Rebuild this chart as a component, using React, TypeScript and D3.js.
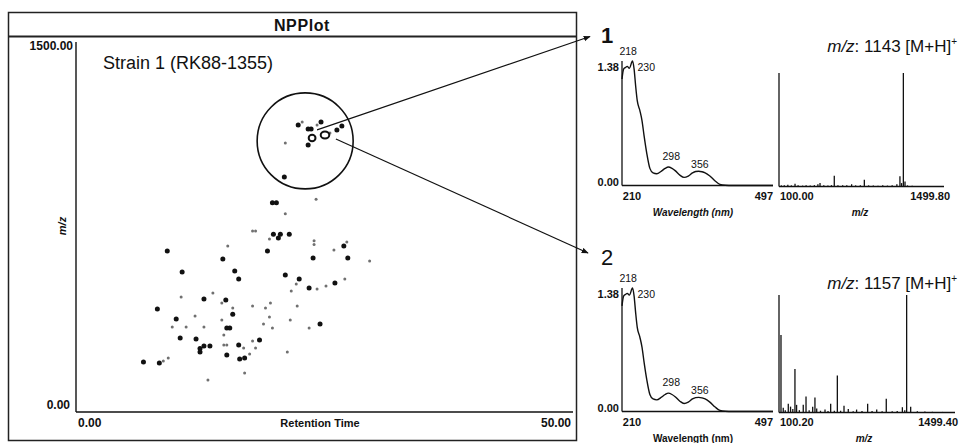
import React from "react";
import * as d3 from "d3";

// ---------- scatter (NPPlot) data ----------
const bigRt = [19.8, 20.2, 19.9, 20.6, 20.4, 21.5, 27.0, 9.2, 19.3, 23.9, 27.4, 14.8, 10.7, 16.0, 16.4, 21.1, 22.5, 23.5, 26.1, 12.9, 15.1, 8.2, 15.8, 10.1, 15.2, 15.5, 24.6, 10.5, 12.1, 18.5, 12.9, 13.5, 12.5, 12.5, 16.4, 15.2, 16.5, 17.0, 6.8, 8.4, 22.4, 23.4, 23.7, 24.7, 26.3, 26.8, 23.4, 21.0];
const bigMz = [855, 855, 727, 727, 711, 727, 678, 658, 658, 629, 629, 625, 572, 576, 544, 560, 544, 507, 527, 462, 458, 421, 400, 380, 343, 343, 360, 302, 298, 294, 270, 270, 260, 245, 274, 233, 217, 221, 204, 200, 1173, 1157, 1157, 1185, 1153, 1169, 1091, 960];
const smallRt = [24.2, 21.1, 17.8, 18.1, 19.5, 24.0, 24.0, 27.3, 15.3, 26.0, 29.6, 22.2, 21.7, 24.3, 25.2, 27.1, 10.6, 13.8, 14.7, 15.8, 17.8, 19.1, 19.6, 22.3, 12.0, 19.5, 14.7, 21.6, 9.7, 11.1, 12.9, 18.9, 19.8, 23.5, 14.9, 17.8, 14.9, 15.2, 16.9, 18.1, 17.5, 21.3, 8.8, 9.3, 17.0, 13.3, 22.8, 24.3, 25.6, 21.1];
const smallMz = [870, 810, 740, 740, 707, 700, 685, 695, 678, 662, 617, 523, 495, 503, 515, 544, 470, 486, 445, 425, 433, 425, 445, 433, 392, 388, 376, 376, 347, 347, 347, 360, 343, 343, 315, 290, 274, 274, 262, 262, 237, 245, 208, 221, 159, 131, 1185, 1173, 1140, 1099];
const ringRt = [23.8, 25.1];
const ringMz = [1120, 1132];

// ---------- UV spectra ----------
const uvWl = [210, 213, 217, 220, 224, 230, 233, 236, 239, 244, 248, 252, 257, 263, 269, 276, 285, 292, 298, 305, 311, 320, 328, 336, 344, 350, 356, 362, 368, 377, 387, 396, 406, 420, 497];
const uvAbs = [1.18, 1.29, 1.31, 1.32, 1.30, 1.38, 1.29, 1.10, 0.94, 0.83, 0.72, 0.55, 0.36, 0.19, 0.14, 0.13, 0.16, 0.19, 0.205, 0.19, 0.165, 0.115, 0.09, 0.105, 0.14, 0.155, 0.158, 0.152, 0.14, 0.105, 0.05, 0.012, 0.002, 0, 0];
const uvPeaks = [218, 230, 298, 356];

// ---------- MS spectra ----------
const ms1Mz = [120, 145, 175, 205, 236, 262, 300, 330, 365, 400, 430, 448, 480, 515, 545, 569, 600, 640, 675, 716, 750, 790, 824, 860, 900, 940, 980, 1020, 1060, 1100, 1126, 1140, 1155, 1169, 1190, 1230, 1280, 1330, 1390, 1450];
const ms1Int = [0.01, 0.012, 0.015, 0.01, 0.024, 0.012, 0.008, 0.01, 0.008, 0.012, 0.02, 0.03, 0.01, 0.008, 0.012, 0.094, 0.01, 0.012, 0.01, 0.02, 0.01, 0.012, 0.06, 0.01, 0.008, 0.006, 0.01, 0.008, 0.01, 0.02, 0.09, 0.03, 1.0, 0.045, 0.01, 0.006, 0.005, 0.004, 0.004, 0.003];
const ms2Mz = [116, 134, 150, 174, 192, 210, 227, 240, 262, 293, 315, 340, 368, 386, 400, 430, 466, 490, 511, 540, 564, 590, 617, 651, 690, 717, 760, 805, 840, 877, 920, 953, 1000, 1040, 1081, 1100, 1115, 1147, 1200, 1260, 1320, 1400];
const ms2Int = [0.66, 0.04, 0.02, 0.074, 0.05, 0.03, 0.37, 0.065, 0.02, 0.065, 0.136, 0.02, 0.05, 0.127, 0.035, 0.015, 0.025, 0.012, 0.074, 0.015, 0.314, 0.015, 0.057, 0.03, 0.01, 0.025, 0.012, 0.074, 0.012, 0.025, 0.01, 0.116, 0.01, 0.012, 0.045, 0.02, 1.0, 0.05, 0.01, 0.008, 0.006, 0.005];

const FONT = "'Liberation Sans', Arial, Helvetica, sans-serif";
const INK = "#111";

function UVPanel({ top, base, italicLabel }: { top: number; base: number; italicLabel: boolean }) {
  const x = d3.scaleLinear().domain([210, 497]).range([622, 773]);
  const y = d3.scaleLinear().domain([0, 1.38]).range([base, top]);
  const line = d3
    .line<number>()
    .x((_, i) => x(uvWl[i]))
    .y((d) => y(d))
    .curve(d3.curveMonotoneX);
  const absAt = (wl: number) => uvAbs[uvWl.indexOf(wl)] ?? 0;
  return (
    <g fontFamily={FONT} fill={INK}>
      <line x1={x(210)} x2={x(210)} y1={y(1.38)} y2={y(0)} stroke={INK} strokeWidth={1.3} />
      <line x1={x(210)} x2={x(497)} y1={y(0)} y2={y(0)} stroke={INK} strokeWidth={1.3} />
      <path d={line(uvAbs) || ""} fill="none" stroke={INK} strokeWidth={1.4} />
      <text x={619} y={y(1.38) + 7} textAnchor="end" dominantBaseline="middle" fontSize={11} fontWeight="bold">1.38</text>
      <text x={619} y={y(0) - 2.5} textAnchor="end" dominantBaseline="middle" fontSize={11} fontWeight="bold">0.00</text>
      <text x={x(210) + 10} y={y(0) + 12} textAnchor="middle" dominantBaseline="middle" fontSize={11} fontWeight="bold">210</text>
      <text x={x(497)} y={y(0) + 12} textAnchor="end" dominantBaseline="middle" fontSize={11} fontWeight="bold">497</text>
      <text x={693} y={y(0) + 27.5} textAnchor="middle" dominantBaseline="middle" fontSize={10} fontWeight="bold" fontStyle={italicLabel ? "italic" : "normal"}>Wavelength (nm)</text>
      <text x={x(uvPeaks[0]) + 2} y={y(1.38) - 8.5} textAnchor="middle" dominantBaseline="middle" fontSize={10.5}>{uvPeaks[0]}</text>
      <text x={x(uvPeaks[1]) + 5} y={y(1.38) + 7} textAnchor="start" dominantBaseline="middle" fontSize={10.5}>{uvPeaks[1]}</text>
      <text x={x(uvPeaks[2]) + 3} y={y(absAt(298)) - 10} textAnchor="middle" dominantBaseline="middle" fontSize={10.5}>{uvPeaks[2]}</text>
      <text x={x(uvPeaks[3]) + 1} y={y(absAt(356)) - 6.5} textAnchor="middle" dominantBaseline="middle" fontSize={10.5}>{uvPeaks[3]}</text>
    </g>
  );
}

function MSPanel({
  top, base, right, lo, hi, mz, inten, loLabel, hiLabel, hiLabelX, title, titleY,
}: {
  top: number; base: number; right: number; lo: number; hi: number; mz: number[]; inten: number[];
  loLabel: string; hiLabel: string; hiLabelX: number; title: string; titleY: number;
}) {
  const x = d3.scaleLinear().domain([lo, hi]).range([779, right]);
  const y = d3.scaleLinear().domain([0, 1]).range([base, top]);
  return (
    <g fontFamily={FONT} fill={INK}>
      <line x1={x(lo)} x2={x(lo)} y1={y(1)} y2={y(0)} stroke={INK} strokeWidth={1.3} />
      <line x1={x(lo)} x2={x(hi)} y1={y(0)} y2={y(0)} stroke={INK} strokeWidth={1.3} />
      {mz.map((m, i) => (
        <line key={i} x1={x(m)} x2={x(m)} y1={y(0)} y2={y(inten[i])} stroke={INK} strokeWidth={1.3} />
      ))}
      <text x={780} y={y(0) + 11} textAnchor="start" dominantBaseline="middle" fontSize={11} fontWeight="bold">{loLabel}</text>
      <text x={hiLabelX} y={y(0) + 11} textAnchor="end" dominantBaseline="middle" fontSize={11} fontWeight="bold">{hiLabel}</text>
      <text x={(780 + hiLabelX) / 2 - 5} y={y(0) + 27} textAnchor="middle" dominantBaseline="middle" fontSize={10} fontWeight="bold" fontStyle="italic">m/z</text>
      <text x={957} y={titleY} textAnchor="end" fontSize={17}>
        <tspan fontStyle="italic">m/z</tspan>
        <tspan>{": " + title + " [M+H]"}</tspan>
        <tspan dy={-7} fontSize={10}>+</tspan>
      </text>
    </g>
  );
}

export default function App() {
  const xs = d3.scaleLinear().domain([0, 50]).range([76, 572]);
  const ys = d3.scaleLinear().domain([0, 1500]).range([412, 45]);

  const circleC = { rt: 23.1, mz: 1108 };
  const cx = xs(circleC.rt);
  const cy = ys(circleC.mz);

  const a1 = { x: xs(24.3), y: ys(1153) };
  const a2 = { x: xs(26.2), y: ys(1116) };

  return (
    <svg width={962} height={443} style={{ position: "absolute", left: 0, top: 0, background: "#fff" }}>
      <defs>
        <marker id="arr" viewBox="0 0 10 10" refX={9} refY={5} markerWidth={7} markerHeight={7} orient="auto" markerUnits="userSpaceOnUse">
          <path d="M0,1 L10,5 L0,9 z" fill={INK} />
        </marker>
      </defs>
      <rect x={0} y={0} width={962} height={443} fill="#fff" />

      {/* left panel frame */}
      <rect x={8.5} y={12.5} width={568} height={428} fill="none" stroke="#222" strokeWidth={1.5} />
      <line x1={8.5} x2={576.5} y1={36.5} y2={36.5} stroke="#222" strokeWidth={1.8} />
      <text x={302} y={30.5} textAnchor="middle" fontFamily={FONT} fontSize={16} fontWeight="bold" letterSpacing={0.6} fill={INK}>NPPlot</text>

      {/* axes */}
      <line x1={xs(0)} x2={xs(0)} y1={42} y2={ys(0)} stroke={INK} strokeWidth={1.4} />
      <line x1={xs(0)} x2={573} y1={ys(0)} y2={ys(0)} stroke={INK} strokeWidth={1.4} />
      <g fontFamily={FONT} fill={INK} fontWeight="bold" fontSize={12}>
        <text x={73} y={47} textAnchor="end" dominantBaseline="middle">1500.00</text>
        <text x={70} y={406} textAnchor="end" dominantBaseline="middle">0.00</text>
        <text x={78} y={423.5} textAnchor="start" dominantBaseline="middle">0.00</text>
        <text x={571} y={423.5} textAnchor="end" dominantBaseline="middle">50.00</text>
        <text x={320} y={424} textAnchor="middle" dominantBaseline="middle" fontSize={11}>Retention Time</text>
        <text x={0} y={0} transform="translate(63,226) rotate(-90)" textAnchor="middle" dominantBaseline="middle" fontSize={11} fontStyle="italic">m/z</text>
      </g>
      <text x={103} y={68.5} fontFamily={FONT} fontSize={18} fill={INK}>Strain 1 (RK88-1355)</text>

      {/* points */}
      {smallRt.map((r, i) => (
        <circle key={"s" + i} cx={xs(r)} cy={ys(smallMz[i])} r={1.5} fill="#707070" />
      ))}
      {bigRt.map((r, i) => (
        <circle key={"b" + i} cx={xs(r)} cy={ys(bigMz[i])} r={2.5} fill={INK} />
      ))}
      {ringRt.map((r, i) => (
        <ellipse key={"r" + i} cx={xs(r)} cy={ys(ringMz[i])} rx={3.4 + i * 0.9} ry={3.2 + i * 0.3} fill="none" stroke={INK} strokeWidth={2} />
      ))}

      {/* highlight circle and arrows */}
      <circle cx={cx} cy={cy} r={48} fill="none" stroke={INK} strokeWidth={1.6} />
      <line x1={a1.x} y1={a1.y} x2={590} y2={36.5} stroke={INK} strokeWidth={1.2} markerEnd="url(#arr)" />
      <line x1={a2.x} y1={a2.y} x2={588} y2={253} stroke={INK} strokeWidth={1.2} markerEnd="url(#arr)" />
      <text x={601} y={43} fontFamily={FONT} fontSize={22} fontWeight="bold" fill={INK}>1</text>
      <text x={601} y={265} fontFamily={FONT} fontSize={22} fill={INK}>2</text>

      {/* right panels */}
      <UVPanel top={61} base={185.5} italicLabel={true} />
      <UVPanel top={288} base={411.5} italicLabel={false} />
      <MSPanel top={73} base={186.5} right={944} lo={100} hi={1499.8} mz={ms1Mz} inten={ms1Int}
        loLabel="100.00" hiLabel="1499.80" hiLabelX={950} title="1143" titleY={52} />
      <MSPanel top={295} base={412.5} right={955} lo={100.2} hi={1499.4} mz={ms2Mz} inten={ms2Int}
        loLabel="100.20" hiLabel="1499.40" hiLabelX={958} title="1157" titleY={288.5} />
    </svg>
  );
}
